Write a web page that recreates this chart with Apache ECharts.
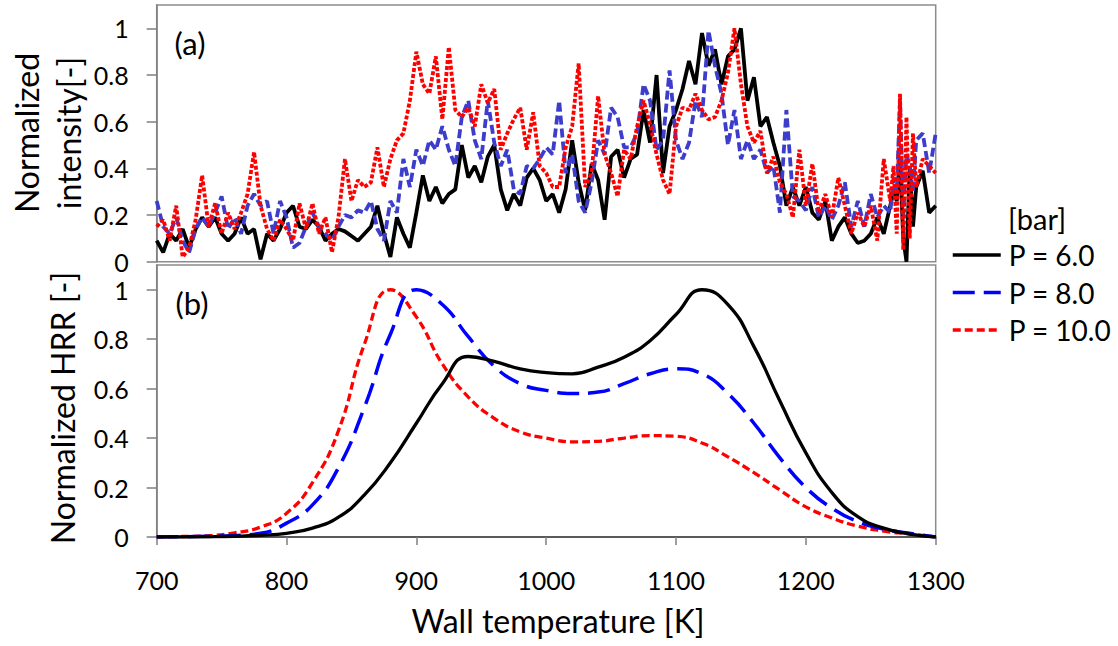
<!DOCTYPE html>
<html>
<head>
<meta charset="utf-8">
<script src="https://cdn.jsdelivr.net/npm/echarts@6/dist/echarts.min.js"></script>
<style>
html, body { margin: 0; padding: 0; background: #fff; }
#main { width: 1118px; height: 646px; }
</style>
</head>
<body>
<div id="main"></div>
<script>
// wall temperature grid for panel (a) [K]
const tempA = [
  700, 705, 710, 715, 720, 725, 730, 735, 740, 745, 750, 755, 760, 765, 770, 775, 780, 785, 790, 795,
  800, 805, 810, 815, 820, 825, 830, 835, 840, 845, 850, 855, 860, 865, 870, 875, 880, 885, 890, 895,
  900, 905, 910, 915, 920, 925, 930, 935, 940, 945, 950, 955, 960, 965, 970, 975, 980, 985, 990, 995,
  1000, 1005, 1010, 1015, 1020, 1025, 1030, 1035, 1040, 1045, 1050, 1055, 1060, 1065, 1070, 1075, 1080, 1085, 1090, 1095,
  1100, 1105, 1110, 1115, 1120, 1125, 1130, 1135, 1140, 1145, 1150, 1155, 1160, 1165, 1170, 1175, 1180, 1185, 1190, 1195,
  1200, 1205, 1210, 1215, 1220, 1225, 1230, 1235, 1240, 1245, 1250, 1255, 1260, 1265,
  1267.5, 1270, 1272.5, 1275, 1277.5, 1280, 1282.5, 1285, 1290, 1295, 1300
];
// normalized intensity, panel (a)
const intensityP6 = [
  0.09, 0.04, 0.12, 0.09, 0.14, 0.06, 0.14, 0.19, 0.15, 0.19, 0.12, 0.09, 0.12, 0.19, 0.12, 0.14, 0.01, 0.12, 0.09, 0.14,
  0.21, 0.24, 0.15, 0.14, 0.18, 0.15, 0.09, 0.12, 0.14, 0.13, 0.11, 0.09, 0.12, 0.15, 0.24, 0.12, 0.02, 0.19, 0.12, 0.06,
  0.21, 0.37, 0.26, 0.32, 0.25, 0.29, 0.31, 0.5, 0.36, 0.41, 0.34, 0.45, 0.5, 0.31, 0.22, 0.29, 0.24, 0.36, 0.4, 0.35,
  0.26, 0.29, 0.21, 0.31, 0.52, 0.34, 0.22, 0.42, 0.35, 0.18, 0.45, 0.48, 0.36, 0.44, 0.46, 0.65, 0.51, 0.8, 0.38, 0.58,
  0.65, 0.74, 0.86, 0.76, 0.98, 0.84, 0.91, 0.76, 0.88, 0.91, 1.0, 0.69, 0.79, 0.58, 0.62, 0.51, 0.41, 0.24, 0.32, 0.24,
  0.32, 0.21, 0.18, 0.26, 0.09, 0.15, 0.19, 0.12, 0.08, 0.09, 0.12, 0.19, 0.12, 0.24,
  0.3, 0.26, 0.45, 0.1, 0.0, 0.41, 0.15, 0.32, 0.39, 0.21, 0.24
];
const intensityP8 = [
  0.26, 0.15, 0.12, 0.19, 0.09, 0.04, 0.14, 0.19, 0.15, 0.21, 0.28, 0.14, 0.19, 0.12, 0.24, 0.29, 0.24, 0.26, 0.12, 0.26,
  0.19, 0.06, 0.08, 0.15, 0.21, 0.15, 0.12, 0.09, 0.15, 0.2, 0.19, 0.22, 0.21, 0.26, 0.14, 0.09, 0.26, 0.21, 0.44, 0.32,
  0.48, 0.41, 0.52, 0.48, 0.58, 0.48, 0.41, 0.62, 0.69, 0.52, 0.44, 0.69, 0.51, 0.41, 0.48, 0.31, 0.29, 0.41, 0.4, 0.44,
  0.49, 0.46, 0.69, 0.38, 0.46, 0.26, 0.21, 0.34, 0.52, 0.46, 0.66, 0.62, 0.49, 0.49, 0.55, 0.76, 0.69, 0.48, 0.52, 0.82,
  0.52, 0.44, 0.51, 0.69, 0.62, 0.99, 0.84, 0.72, 0.5, 0.65, 0.44, 0.52, 0.44, 0.48, 0.38, 0.41, 0.21, 0.65, 0.28, 0.26,
  0.22, 0.32, 0.19, 0.24, 0.18, 0.24, 0.34, 0.15, 0.26, 0.15, 0.29, 0.19, 0.24, 0.21,
  0.36, 0.3, 0.69, 0.2, 0.46, 0.41, 0.3, 0.52, 0.55, 0.38, 0.55
];
const intensityP10 = [
  0.15, 0.18, 0.09, 0.24, 0.02, 0.06, 0.18, 0.37, 0.15, 0.25, 0.12, 0.21, 0.14, 0.21, 0.29, 0.47, 0.24, 0.14, 0.09, 0.18,
  0.14, 0.09, 0.25, 0.14, 0.25, 0.12, 0.19, 0.04, 0.19, 0.44, 0.26, 0.35, 0.32, 0.34, 0.49, 0.32, 0.44, 0.52, 0.55, 0.69,
  0.9, 0.76, 0.72, 0.88, 0.61, 0.92, 0.65, 0.62, 0.66, 0.58, 0.76, 0.68, 0.74, 0.48, 0.55, 0.61, 0.66, 0.48, 0.64, 0.41,
  0.38, 0.32, 0.32, 0.49, 0.58, 0.85, 0.32, 0.38, 0.71, 0.46, 0.38, 0.28, 0.48, 0.44, 0.58, 0.69, 0.59, 0.46, 0.35, 0.29,
  0.58, 0.66, 0.65, 0.72, 0.65, 0.61, 0.62, 0.69, 0.81, 1.0, 0.76, 0.58, 0.51, 0.56, 0.38, 0.45, 0.34, 0.29, 0.19, 0.48,
  0.24, 0.42, 0.21, 0.29, 0.19, 0.36, 0.24, 0.12, 0.21, 0.15, 0.24, 0.09, 0.44, 0.26,
  0.41, 0.12, 0.72, 0.05, 0.62, 0.1, 0.55, 0.32, 0.44, 0.41, 0.38
];

// wall temperature grid for panel (b) [K]
const tempB = [
  700, 720, 740, 760, 780, 800, 820, 840, 860, 880, 900, 920, 940, 960, 980, 1000,
  1020, 1040, 1060, 1080, 1100, 1120, 1140, 1160, 1180, 1200, 1220, 1240, 1260, 1280, 1300
];
// normalized heat release rate, panel (b)
const hrrP6 = [
  0, 0, 0.001, 0.003, 0.007, 0.015, 0.036, 0.08, 0.17, 0.3, 0.46, 0.62, 0.73, 0.71, 0.68, 0.665,
  0.66, 0.687, 0.727, 0.794, 0.9, 1.0, 0.94, 0.77, 0.55, 0.34, 0.18, 0.082, 0.036, 0.012, 0
];
const hrrP8 = [
  0, 0.001, 0.003, 0.006, 0.015, 0.056, 0.13, 0.28, 0.525, 0.82, 1.0, 0.94, 0.81, 0.69, 0.62, 0.593,
  0.58, 0.586, 0.62, 0.66, 0.68, 0.66, 0.58, 0.46, 0.32, 0.2, 0.117, 0.062, 0.032, 0.015, 0
];
const hrrP10 = [
  0, 0.002, 0.005, 0.017, 0.04, 0.096, 0.22, 0.43, 0.78, 1.0, 0.89, 0.7, 0.566, 0.48, 0.425, 0.4,
  0.385, 0.387, 0.4, 0.41, 0.407, 0.38, 0.324, 0.26, 0.19, 0.122, 0.077, 0.044, 0.024, 0.012, 0
];

const yTicks = [0, 0.2, 0.4, 0.6, 0.8, 1];
const legendNames = ['P = 6.0', 'P = 8.0', 'P = 10.0'];

const FONT = 'Lato';
const pairs = (xs, ys) => xs.map((x, i) => [x, ys[i]]);

const chart = echarts.init(document.getElementById('main'), null, { renderer: 'svg' });

// 坐标轴公共样式
const yAxisBase = (gridIndex) => ({
  gridIndex,
  type: 'value',
  min: 0,
  max: 1.1,
  interval: 0.2,
  axisLine: { show: true, lineStyle: { color: '#7f7f7f', width: 1.5 } },
  axisTick: { show: true, inside: false, length: 10, customValues: yTicks, lineStyle: { color: '#7f7f7f', width: 1.5 } },
  axisLabel: { customValues: yTicks, margin: 28, fontSize: 25, color: '#000', fontFamily: FONT },
  splitLine: { show: false },
});

const titleText = (x, y, text, size, rotated) => ({
  type: 'text', x, y, rotation: rotated ? Math.PI / 2 : 0,
  style: { text, font: size + 'px ' + FONT, fill: '#000', align: 'center', verticalAlign: 'middle' },
});

const option = {
  backgroundColor: '#fff',
  animation: false,
  grid: [
    { left: 156.7, top: 5, width: 779, height: 256.7, show: true, borderColor: '#8c8c8c', borderWidth: 1.5 },
    { left: 156.7, top: 265, width: 779, height: 272, show: true, borderColor: '#8c8c8c', borderWidth: 1.5 },
  ],
  xAxis: [
    {
      gridIndex: 0, type: 'value', min: 700, max: 1300, interval: 100,
      axisLine: { show: false }, axisTick: { show: false }, axisLabel: { show: false }, splitLine: { show: false },
    },
    {
      gridIndex: 1, type: 'value', min: 700, max: 1300, interval: 100,
      axisLine: { show: true, onZero: false, lineStyle: { color: '#404040', width: 1.5 } },
      axisTick: { show: true, inside: false, length: 8, lineStyle: { color: '#7f7f7f', width: 1.5 } },
      axisLabel: { margin: 30, fontSize: 25, color: '#000', fontFamily: FONT, formatter: (v) => String(v) },
      splitLine: { show: false },
    },
  ],
  yAxis: [yAxisBase(0), yAxisBase(1)],
  legend: {
    data: legendNames,
    orient: 'vertical',
    left: 946,
    top: 234,
    itemWidth: 48,
    itemHeight: 20,
    itemGap: 5.5,
    selectedMode: false,
    itemStyle: { opacity: 0 },
    lineStyle: { width: 3.5 },
    textStyle: { fontSize: 28, lineHeight: 32, color: '#000', fontFamily: FONT, padding: [0, 0, 0, 3] },
  },
  graphic: [
    titleText(190, 43, '(a)', 31, false),
    titleText(192, 303, '(b)', 31, false),
    titleText(26, 133, 'Normalized', 32, true),
    titleText(68, 133, 'intensity[-]', 32, true),
    titleText(62, 408, 'Normalized HRR [-]', 32, true),
    titleText(558, 620, 'Wall temperature [K]', 32, false),
    { type: 'text', x: 1008, y: 218, style: { text: '[bar]', font: '29px ' + FONT, fill: '#000', align: 'left', verticalAlign: 'middle' } },
  ],
  series: [
    // panel (b)
    {
      name: legendNames[0], type: 'line', xAxisIndex: 1, yAxisIndex: 1, data: pairs(tempB, hrrP6),
      smooth: true, showSymbol: false, symbol: 'none', z: 4,
      itemStyle: { color: '#000' },
      lineStyle: { color: '#000', width: 3.3, type: 'solid' },
    },
    {
      name: legendNames[1], type: 'line', xAxisIndex: 1, yAxisIndex: 1, data: pairs(tempB, hrrP8),
      smooth: true, showSymbol: false, symbol: 'none', z: 3,
      itemStyle: { color: '#0000ff' },
      lineStyle: { color: '#0000ff', width: 3.5, type: [22, 9] },
    },
    {
      name: legendNames[2], type: 'line', xAxisIndex: 1, yAxisIndex: 1, data: pairs(tempB, hrrP10),
      smooth: true, showSymbol: false, symbol: 'none', z: 2,
      itemStyle: { color: '#ff0000' },
      lineStyle: { color: '#ff0000', width: 3.3, type: [8, 4] },
    },
    // panel (a)
    {
      name: 'a6', type: 'line', xAxisIndex: 0, yAxisIndex: 0, data: pairs(tempA, intensityP6),
      showSymbol: false, symbol: 'none', z: 2,
      itemStyle: { color: '#000' },
      lineStyle: { color: '#000', width: 3.8, type: 'solid' },
    },
    {
      name: 'a8', type: 'line', xAxisIndex: 0, yAxisIndex: 0, data: pairs(tempA, intensityP8),
      showSymbol: false, symbol: 'none', z: 3,
      itemStyle: { color: '#3d3dcc' },
      lineStyle: { color: '#3d3dcc', width: 3.8, type: [9, 4] },
    },
    {
      name: 'a10', type: 'line', xAxisIndex: 0, yAxisIndex: 0, data: pairs(tempA, intensityP10),
      showSymbol: false, symbol: 'none', z: 4,
      itemStyle: { color: '#ff0000' },
      lineStyle: { color: '#ff0000', width: 3.8, type: [4, 2] },
    },
  ],
};

chart.setOption(option);
window.onresize = function () {
  chart.resize();
};
</script>
</body>
</html>
